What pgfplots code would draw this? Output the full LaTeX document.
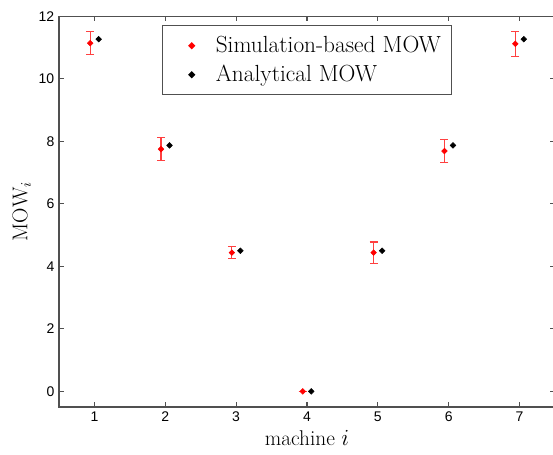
\documentclass[border=0pt]{standalone}
\usepackage{pgfplots}
\pgfplotsset{compat=1.18}
\usepackage{fontspec}
\newfontfamily\arialfont{Liberation Sans}
\definecolor{axgray}{HTML}{505050}

\pgfplotstableread{
x     y      e
0.94  11.14  0.37
1.94  7.75   0.36
2.94  4.44   0.20
3.94  0.00   0.00
4.94  4.44   0.34
5.94  7.69   0.36
6.94  11.12  0.40
}\simdata

\pgfplotstableread{
x     y
1.06  11.27
2.06  7.87
3.06  4.50
4.06  0.00
5.06  4.50
6.06  7.87
7.06  11.27
}\anadata

\begin{document}
\begin{tikzpicture}
\begin{axis}[
    width=372pt, height=293pt, scale only axis,
    xmin=0.5, xmax=7.5, ymin=-0.5, ymax=12,
    xtick={1,...,7}, ytick={0,2,...,12},
    tick align=inside, major tick length=3.75pt,
    axis line style={draw=axgray, line width=0.8pt},
    tick style={draw=axgray, line width=0.8pt},
    ticklabel style={font=\arialfont\fontsize{10.5}{12}\selectfont},
    /pgf/number format/assume math mode=true,
    xlabel={machine $i$}, ylabel={$\mathrm{MOW}_i$},
    label style={font=\fontsize{16}{19}\selectfont},
    ylabel style={yshift=-1pt},
    legend style={
        at={(0.5,0.977)}, anchor=north,
        draw=axgray, line width=0.8pt,
        font=\fontsize{17.5}{21}\selectfont,
        inner xsep=6pt, inner ysep=6pt,
        row sep=4pt
    },
    legend cell align=left,
    legend image code/.code={
        \path (0cm,0cm) (1.1cm,0cm);
        \draw[mark repeat=2, mark phase=2, #1]
            plot coordinates {(0cm,0cm) (0.55cm,0cm) (1.1cm,0cm)};
    }
]
\addplot[only marks, mark=square*, mark size=1.5pt, color=red,
    mark options={fill=red, draw=red, rotate=45},
    error bars/.cd, y dir=both, y explicit,
    error bar style={line width=0.8pt, red!75},
    error mark options={rotate=90, mark size=3pt, line width=0.8pt, red!75}]
    table[x=x, y=y, y error=e] {\simdata};
\addplot[only marks, mark=square*, mark size=1.5pt, color=black,
    mark options={fill=black, draw=black, rotate=45}]
    table[x=x, y=y] {\anadata};
\legend{Simulation-based MOW, Analytical MOW}
\end{axis}
\pgfresetboundingbox
\path[use as bounding box] ([shift={(-44.25pt,-35.25pt)}]current axis.south west)
    rectangle ([shift={(370.5pt,305.25pt)}]current axis.south west);
\end{tikzpicture}
\end{document}
